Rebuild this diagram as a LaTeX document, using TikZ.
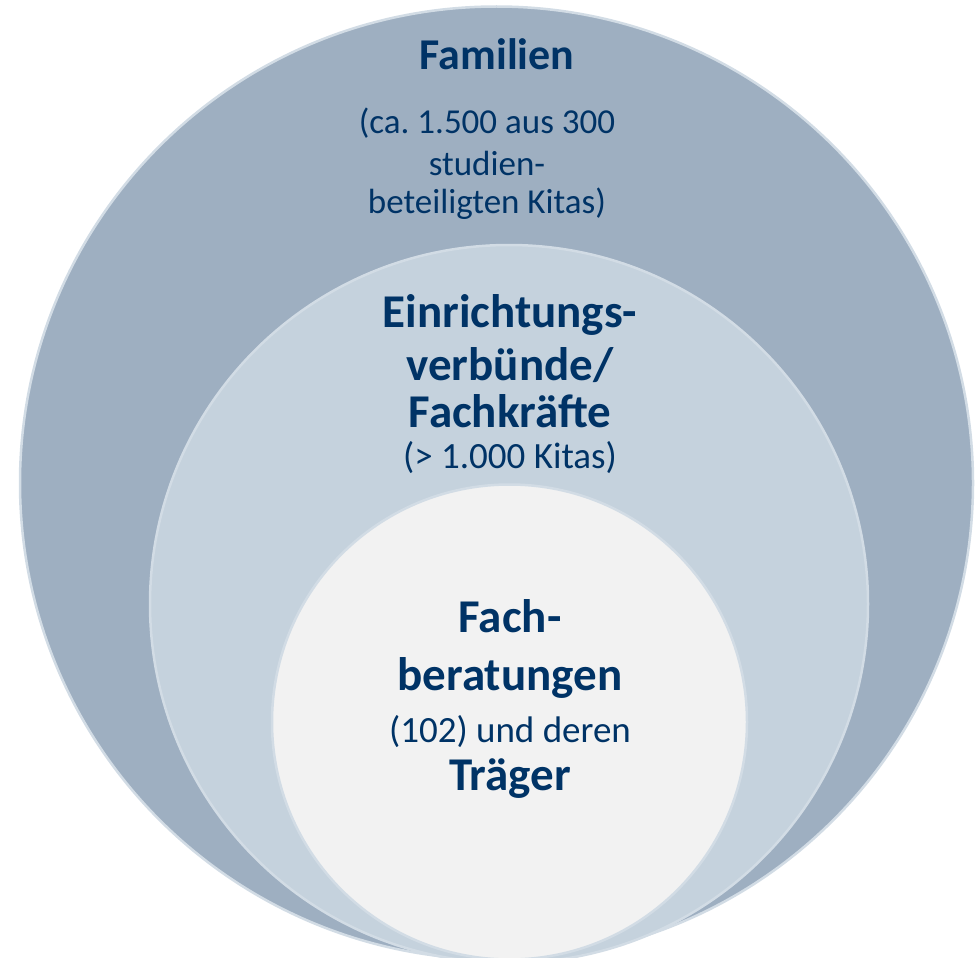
\documentclass[tikz,border=0pt]{standalone}
\usepackage{fontspec}
\setmainfont{Carlito}
\usepackage{xcolor}

\definecolor{navy}{RGB}{0,51,102}
\definecolor{outerblue}{RGB}{158,175,193}
\definecolor{midblue}{RGB}{197,210,221}
\definecolor{innergray}{RGB}{242,242,242}
\definecolor{rim}{RGB}{210,220,229}

\begin{document}
\begin{tikzpicture}[x=1pt,y=-1pt]

\tikzset{ring/.style = {draw=rim,line width=2.5pt}}
\tikzset{title/.style = {anchor=base,text=navy,inner sep=0pt,font=\fontsize{47}{53}\selectfont\bfseries}}
\tikzset{note/.style = {anchor=base,text=navy,inner sep=0pt,font=\fontsize{37}{44}\selectfont}}

\useasboundingbox (0,0) rectangle (975,958);
\clip (0,0) rectangle (975,958);

%circles
\filldraw[ring,fill=outerblue] (496.5,483) circle (476.5);
\filldraw[ring,fill=midblue] (509,604) circle (359);
\filldraw[ring,fill=innergray] (509.5,722) circle (237.5);

%outer ring
\node[title,font=\fontsize{44}{50}\selectfont\bfseries] (fam) at (497,70) {Familien};
\node[note,font=\fontsize{35}{42}\selectfont] (fam1) at (487,133) {(ca.\ 1.500 aus 300};
\node[note,font=\fontsize{35}{42}\selectfont] (fam2) at (487,175) {studien-};
\node[note,font=\fontsize{35}{42}\selectfont] (fam3) at (487,213) {beteiligten Kitas)};

%middle ring
\node[title] (ein1) at (510,327) {Einrichtungs-};
\node[title] (ein2) at (510,380) {verbünde/};
\node[title] (ein3) at (510,427) {Fachkräfte};
\node[note] (ein4) at (510,468) {(> 1.000 Kitas)};

%inner ring
\node[title] (fb1) at (510,632) {Fach-};
\node[title] (fb2) at (510,690) {beratungen};
\node[note] (fb3) at (510,742) {(102) und deren};
\node[title] (fb4) at (510,790) {Träger};
\end{tikzpicture}
\end{document}
